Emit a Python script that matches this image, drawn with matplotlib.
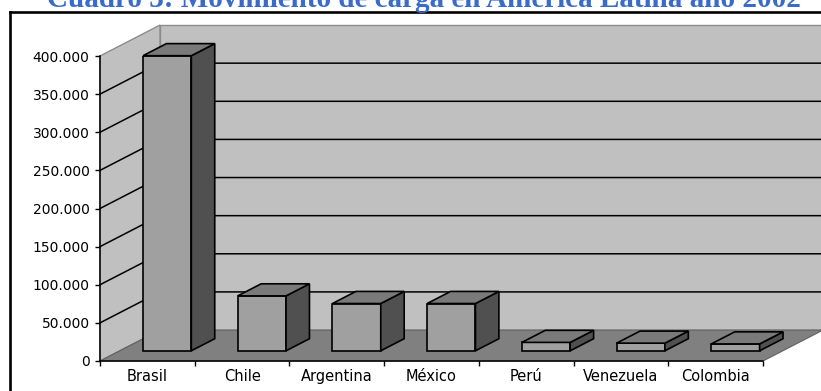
import matplotlib
matplotlib.use("Agg")
import matplotlib.pyplot as plt
from matplotlib.patches import Polygon
from matplotlib.lines import Line2D

# data
paises = ["Brasil", "Chile", "Argentina", "México", "Perú", "Venezuela", "Colombia"]
carga = [387000, 72000, 62000, 62000, 11000, 10000, 9000]
yticks = [0, 50000, 100000, 150000, 200000, 250000, 300000, 350000, 400000]
titulo = "Cuadro 3: Movimiento de carga en América Latina año 2002"

W, H = 821, 391
fig = plt.figure(figsize=(W / 100, H / 100), dpi=100)
ax = fig.add_axes([100 / W, (H - 361) / H, 663 / W, 305 / H])

n = len(paises)
ymax = yticks[-1]
ax.set_xlim(0, n)
ax.set_ylim(0, ymax)

# oblique depth of the box, in data units
DX = 0.634
DY = 40600
f0 = 0.33      # where the bar front face sits in the depth
fd = 0.39      # depth of each bar
bw = 0.51

wall = "#c0c0c0"
floor = "#808080"

# walls and floor
ax.add_patch(Polygon([(0, 0), (DX, DY), (DX, ymax + DY), (0, ymax)],
                     closed=True, fc=wall, ec="#8c8c8c", lw=1, zorder=0.5, clip_on=False))
ax.add_patch(Polygon([(DX, DY), (n + DX, DY), (n + DX, ymax + DY), (DX, ymax + DY)],
                     closed=True, fc=wall, ec="#8c8c8c", lw=1, zorder=0.5, clip_on=False))
ax.add_patch(Polygon([(0, 0), (n, 0), (n + DX, DY), (DX, DY)],
                     closed=True, fc=floor, ec="#606060", lw=0.8, zorder=0.6, clip_on=False))

# gridlines on left and back walls
for v in yticks[1:-1]:
    ax.plot([0, DX, n + DX], [v, v + DY, v + DY], color="black", lw=1.1,
            zorder=0.8, clip_on=False)

# bars: front face with ax.bar, then side and top faces
xs = [i + 0.5 + f0 * DX for i in range(n)]
base = f0 * DY
ax.bar(xs, carga, width=bw, bottom=base, color="#a0a0a0", edgecolor="black",
       lw=1.2, zorder=3)
ddx, ddy = fd * DX, fd * DY
for x, v in zip(xs, carga):
    xl, xr = x - bw / 2, x + bw / 2
    top = base + v
    ax.add_patch(Polygon([(xr, base), (xr + ddx, base + ddy), (xr + ddx, top + ddy), (xr, top)],
                         closed=True, fc="#505050", ec="black", lw=1.2, zorder=3, clip_on=False))
    ax.add_patch(Polygon([(xl, top), (xr, top), (xr + ddx, top + ddy), (xl + ddx, top + ddy)],
                         closed=True, fc="#7a7a7a", ec="black", lw=1.2, zorder=3, clip_on=False))

# axes
for s in ["top", "right"]:
    ax.spines[s].set_visible(False)
for s in ["left", "bottom"]:
    ax.spines[s].set_color("black")
    ax.spines[s].set_linewidth(1.1)
    ax.spines[s].set_zorder(1)
ax.patch.set_visible(False)

ax.set_yticks(yticks)
ax.set_yticklabels(["{:,.0f}".format(v).replace(",", ".") for v in yticks])
ax.tick_params(axis="y", direction="out", length=3.5, width=1, pad=4, labelsize=10)

ax.set_xticks(range(n + 1))
ax.set_xticklabels([])
ax.tick_params(axis="x", which="major", direction="out", length=3.5, width=1)
ax.set_xticks([i + 0.5 for i in range(n)], minor=True)
ax.set_xticklabels(paises, minor=True)
ax.tick_params(axis="x", which="minor", length=0, pad=6, labelsize=10.5)

# title (cut at top of image, as in the source) and outer frame
fig.text(424 / W, 1 - 7 / H, titulo, ha="center", va="baseline", fontsize=21,
         fontweight="bold", family=["Liberation Serif", "DejaVu Serif"], color="#3a6bc9")
fig.add_artist(Line2D([10 / W, 10 / W], [0, 1 - 12 / H], color="black", lw=1.9,
                      transform=fig.transFigure))
fig.add_artist(Line2D([10 / W, 1], [1 - 12 / H, 1 - 12 / H], color="black", lw=1.9,
                      transform=fig.transFigure))

plt.savefig("out.png", dpi=100)
